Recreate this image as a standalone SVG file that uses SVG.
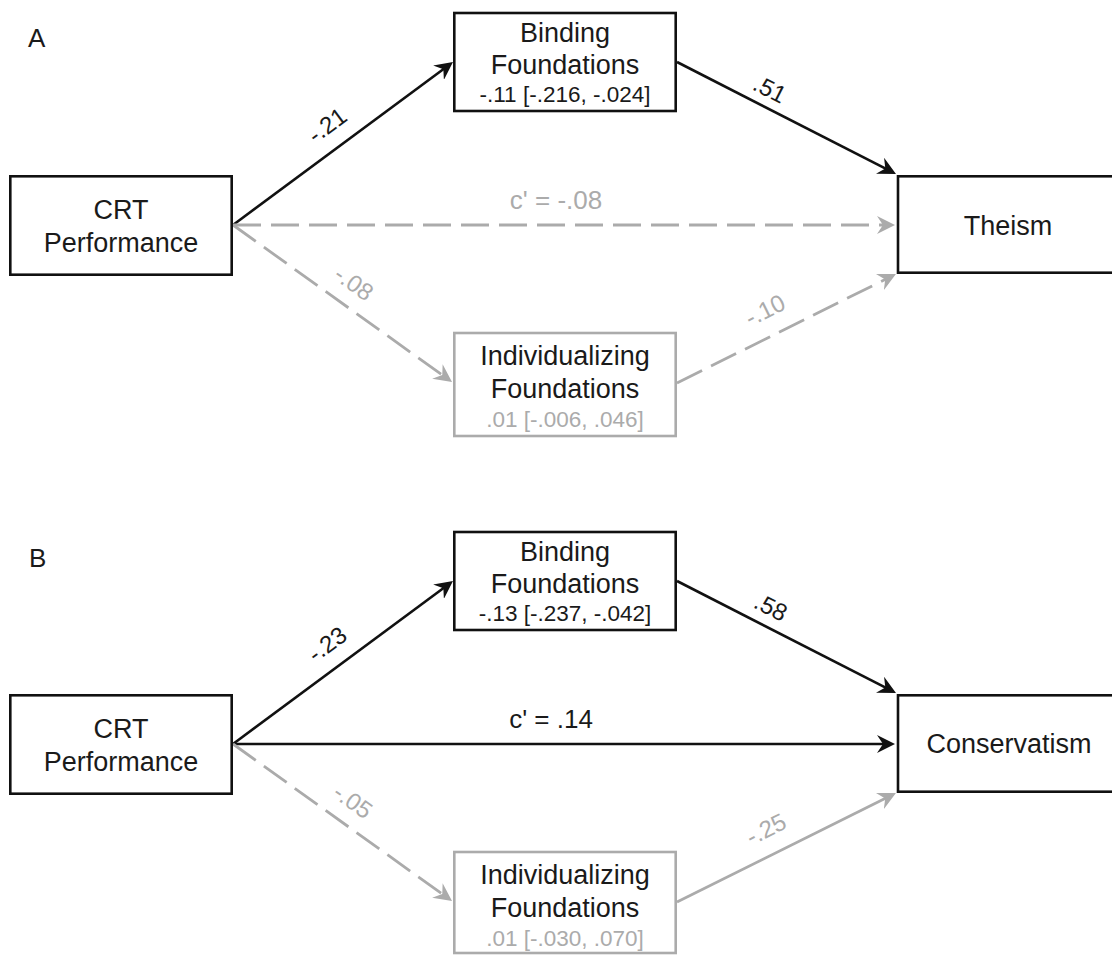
<svg xmlns="http://www.w3.org/2000/svg" width="1112" height="955" viewBox="0 0 1112 955">
<style>
text{font-family:"Liberation Sans",Arial,sans-serif;fill:#1a1a1a}
.lbl{font-size:27px;text-anchor:middle}
.cl{font-size:26px;text-anchor:middle}
.ci{font-size:22.5px;text-anchor:middle}
.gt{fill:#ababab}
.el{font-size:24px;text-anchor:middle}
.panel{font-size:26px}
.bk{fill:#fff;stroke:#111;stroke-width:2.6}
.gb{fill:#fff;stroke:#ababab;stroke-width:2.6}
.cb{stroke:#111;stroke-width:2.6;fill:none}
.cg{stroke:#ababab;stroke-width:2.8;fill:none}
.dash{stroke-dasharray:28 10}
</style>
<defs>
<marker id="ab" markerUnits="userSpaceOnUse" viewBox="0 0 18 18" refX="8" refY="9" markerWidth="18" markerHeight="18" orient="auto">
<path d="M0,0 L18,9 L0,18 L6,9 Z" fill="#111"/>
</marker>
<marker id="ag" markerUnits="userSpaceOnUse" viewBox="0 0 18 18" refX="8" refY="9" markerWidth="18" markerHeight="18" orient="auto">
<path d="M0,0 L18,9 L0,18 L6,9 Z" fill="#ababab"/>
</marker>
</defs>

<text class="panel" x="28" y="47">A</text>
<text class="panel" x="29" y="567">B</text>

<g id="connectors">
<!-- Panel A -->
<line class="cb" x1="233" y1="225" x2="444.96" y2="67.95" marker-end="url(#ab)"/>
<line class="cb" x1="677" y1="62" x2="887.1" y2="169.4" marker-end="url(#ab)"/>
<line class="cg dash" x1="233" y1="225" x2="885" y2="225" marker-end="url(#ag)"/>
<line class="cg dash" x1="233" y1="225" x2="443.9" y2="376.2" marker-end="url(#ag)"/>
<line class="cg dash" x1="677" y1="383" x2="887" y2="278.5" marker-end="url(#ag)"/>
<!-- Panel B -->
<line class="cb" x1="233" y1="744" x2="444.96" y2="586.95" marker-end="url(#ab)"/>
<line class="cb" x1="677" y1="581" x2="887.1" y2="688.4" marker-end="url(#ab)"/>
<line class="cb" x1="233" y1="744" x2="885" y2="744" marker-end="url(#ab)"/>
<line class="cg dash" x1="233" y1="744" x2="443.9" y2="895.2" marker-end="url(#ag)"/>
<line class="cg" x1="677" y1="902" x2="887" y2="797.5" marker-end="url(#ag)"/>

<!-- labels -->
<text class="el" transform="translate(327,125) rotate(-36.5)" x="0" y="8.5">-.21</text>
<text class="el" transform="translate(770,89) rotate(27)" x="0" y="8.5">.51</text>
<text class="cl gt" x="556" y="209">c' = -.08</text>
<text class="el gt" transform="translate(354,283) rotate(35.6)" x="0" y="8.5">-.08</text>
<text class="el gt" transform="translate(765,310) rotate(-26.5)" x="0" y="8.5">-.10</text>

<text class="el" transform="translate(327,644) rotate(-36.5)" x="0" y="8.5">-.23</text>
<text class="el" transform="translate(771,607) rotate(27)" x="0" y="8.5">.58</text>
<text class="cl" x="551" y="728">c' = .14</text>
<text class="el gt" transform="translate(353,801) rotate(35.6)" x="0" y="8.5">-.05</text>
<text class="el gt" transform="translate(766,829) rotate(-26.5)" x="0" y="8.5">-.25</text>
</g>

<!-- Panel A nodes -->
<g id="crtA">
<rect class="bk" x="10.3" y="176.3" width="221.4" height="98.4"/>
<text class="lbl" x="121" y="219">CRT</text>
<text class="lbl" x="121" y="252">Performance</text>
</g>
<g id="bindingA">
<rect class="bk" x="454.3" y="13" width="221.4" height="98"/>
<text class="lbl" x="565" y="42">Binding</text>
<text class="lbl" x="565" y="74">Foundations</text>
<text class="ci" x="565" y="102">-.11 [-.216, -.024]</text>
</g>
<g id="theismA">
<rect class="bk" x="898" y="176.3" width="224" height="96.4"/>
<text class="lbl" x="1008" y="235">Theism</text>
</g>
<g id="individualizingA">
<rect class="gb" x="454.3" y="333" width="221.4" height="103"/>
<text class="lbl" x="565" y="365">Individualizing</text>
<text class="lbl" x="565" y="398">Foundations</text>
<text class="ci gt" x="565" y="427">.01 [-.006, .046]</text>
</g>

<!-- Panel B nodes -->
<g id="crtB">
<rect class="bk" x="10.3" y="695.3" width="221.4" height="98.4"/>
<text class="lbl" x="121" y="738">CRT</text>
<text class="lbl" x="121" y="771">Performance</text>
</g>
<g id="bindingB">
<rect class="bk" x="454.3" y="532" width="221.4" height="98"/>
<text class="lbl" x="565" y="561">Binding</text>
<text class="lbl" x="565" y="593">Foundations</text>
<text class="ci" x="565" y="621">-.13 [-.237, -.042]</text>
</g>
<g id="conservatismB">
<rect class="bk" x="898" y="695.3" width="224" height="96.4"/>
<text class="lbl" x="1009" y="753">Conservatism</text>
</g>
<g id="individualizingB">
<rect class="gb" x="454.3" y="852" width="221.4" height="101"/>
<text class="lbl" x="565" y="884">Individualizing</text>
<text class="lbl" x="565" y="917">Foundations</text>
<text class="ci gt" x="565" y="946">.01 [-.030, .070]</text>
</g>
</svg>
